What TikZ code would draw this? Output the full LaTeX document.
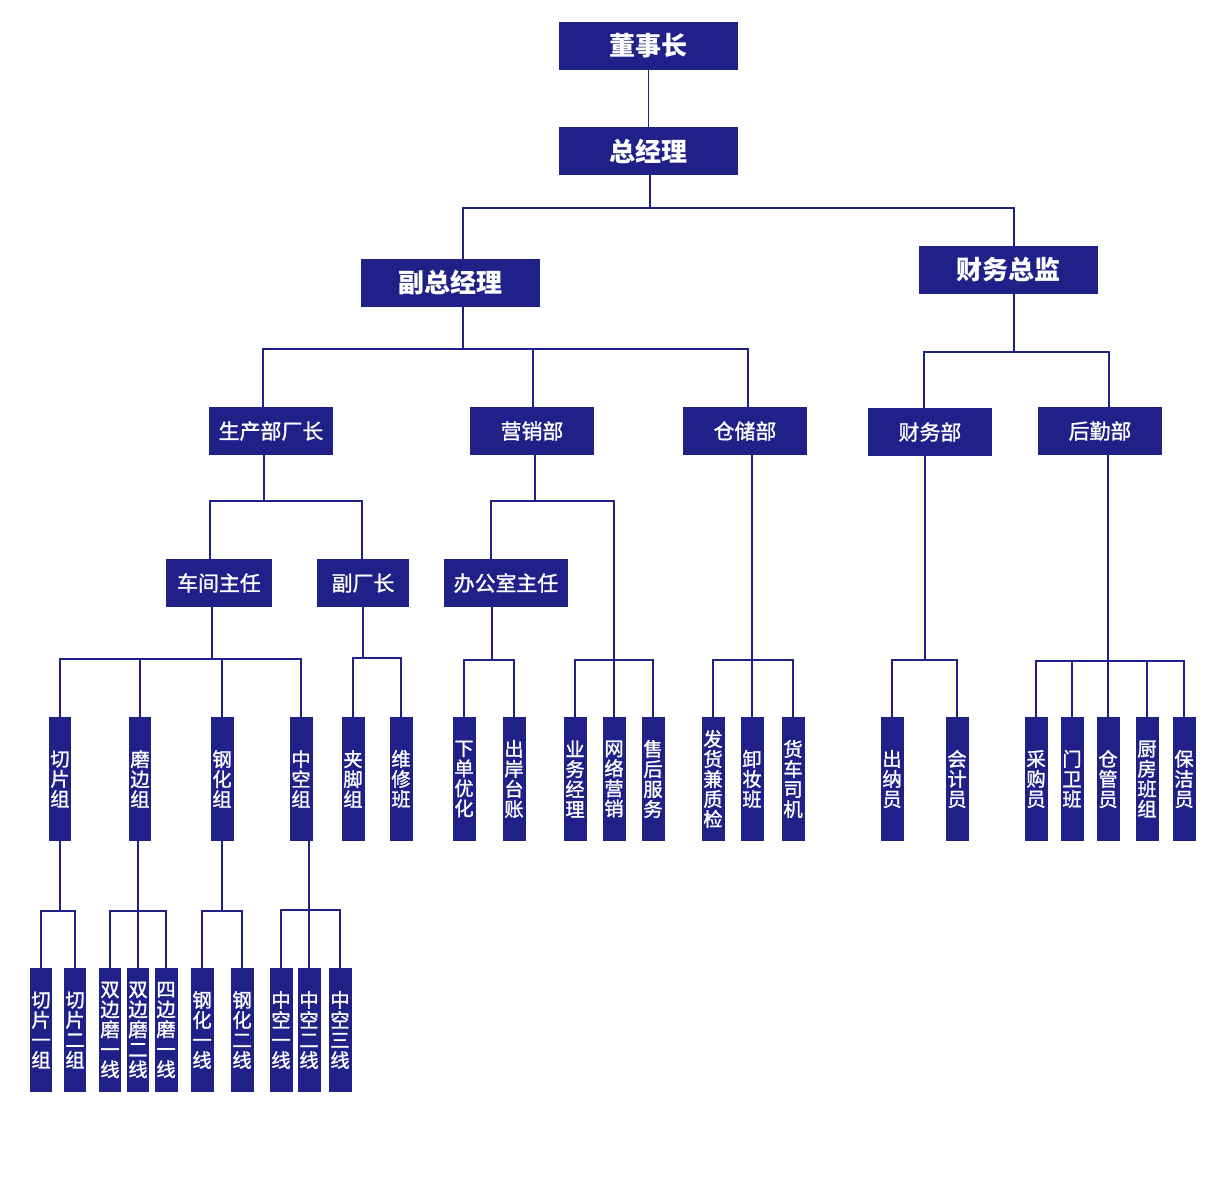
\documentclass[tikz,border=0pt]{standalone}
\usepackage{fontspec}
\setmainfont{Noto Sans CJK SC}
\newfontfamily\medfont{Noto Sans CJK SC}[BoldFont={Noto Sans CJK SC},BoldFeatures={FakeBold=1.3}]
\definecolor{navy}{RGB}{31,32,136}

\begin{document}
\begin{tikzpicture}[x=0.02cm,y=-0.02cm,
    orgbox/.style={fill=navy,text=white,inner sep=0pt},
    topbox/.style={orgbox,minimum width=3.58cm,minimum height=0.96cm,font=\fontsize{14.8}{17}\selectfont\bfseries},
    deptbox/.style={orgbox,minimum width=2.48cm,minimum height=0.96cm,font=\medfont\fontsize{11.9}{14}\selectfont\bfseries},
    vbox/.style={orgbox,minimum width=0.46cm,minimum height=2.48cm,align=center,font=\medfont\fontsize{11}{11.4}\selectfont\bfseries},
    link/.style={draw=navy,line width=1.1pt}]
    \useasboundingbox (0,0) rectangle (1220,1200);

    % top levels
    \node[topbox] (chair) at (648.5,46) {董事长};
    \node[topbox] (gm) at (648.5,151) {总经理};
    \node[topbox] (vp) at (450.5,283) {副总经理};
    \node[topbox] (cfo) at (1008.5,270) {财务总监};

    \node[deptbox] (prod) at (271,431) {生产部厂长};
    \node[deptbox] (sales) at (532,431) {营销部};
    \node[deptbox] (store) at (745,431) {仓储部};
    \node[deptbox] (fin) at (930,432) {财务部};
    \node[deptbox] (logi) at (1100,431) {后勤部};

    \node[deptbox,minimum width=2.12cm] (ws) at (219,583) {车间主任};
    \node[deptbox,minimum width=1.84cm] (vfm) at (363,583) {副厂长};
    \node[deptbox] (office) at (506,583) {办公室主任};

    % groups
    \node[vbox] (qp) at (60,779) {切\\片\\组};
    \node[vbox] (mb) at (140,779) {磨\\边\\组};
    \node[vbox] (gh) at (222,779) {钢\\化\\组};
    \node[vbox] (zk) at (301,779) {中\\空\\组};
    \node[vbox] (jj) at (353,779) {夹\\脚\\组};
    \node[vbox] (wx) at (401,779) {维\\修\\班};
    \node[vbox] (xd) at (464,779) {下\\单\\优\\化};
    \node[vbox] (ca) at (514,779) {出\\岸\\台\\账};
    \node[vbox] (yw) at (575,779) {业\\务\\经\\理};
    \node[vbox] (wl) at (614,779) {网\\络\\营\\销};
    \node[vbox] (sh) at (653,779) {售\\后\\服\\务};
    \node[vbox] (fh) at (713,779) {发\\货\\兼\\质\\检};
    \node[vbox] (xz) at (752,779) {卸\\妆\\班};
    \node[vbox] (hc) at (793,779) {货\\车\\司\\机};
    \node[vbox] (cn) at (892,779) {出\\纳\\员};
    \node[vbox] (kj) at (957,779) {会\\计\\员};
    \node[vbox] (cg) at (1036,779) {采\\购\\员};
    \node[vbox] (mw) at (1072,779) {门\\卫\\班};
    \node[vbox] (cang) at (1108,779) {仓\\管\\员};
    \node[vbox] (cf) at (1147,779) {厨\\房\\班\\组};
    \node[vbox] (bj) at (1184,779) {保\\洁\\员};

    % lines
    \node[vbox] (qp1) at (41,1030) {切\\片\\一\\组};
    \node[vbox] (qp2) at (75,1030) {切\\片\\二\\组};
    \node[vbox] (mb1) at (110,1030) {双\\边\\磨\\一\\线};
    \node[vbox] (mb2) at (138,1030) {双\\边\\磨\\二\\线};
    \node[vbox] (mb3) at (166,1030) {四\\边\\磨\\一\\线};
    \node[vbox] (gh1) at (202,1030) {钢\\化\\一\\线};
    \node[vbox] (gh2) at (242,1030) {钢\\化\\二\\线};
    \node[vbox] (zk1) at (281,1030) {中\\空\\一\\线};
    \node[vbox] (zk2) at (309,1030) {中\\空\\二\\线};
    \node[vbox] (zk3) at (340,1030) {中\\空\\三\\线};

    % connectors, top down
    \draw[link] (chair) -- (gm);
    \draw[link] (gm.south -| 650,0) -- (650,208);
    \draw[link] (vp.north -| 463,0) |- (650,208) -| (cfo.north -| 1014,0);

    \draw[link] (vp.south -| 463,0) -- (463,349);
    \draw[link] (prod.north -| 263,0) |- (463,349) -| (store.north -| 748,0);
    \draw[link] (sales.north -| 533,0) -- (533,349);

    \draw[link] (cfo.south -| 1014,0) -- (1014,352);
    \draw[link] (fin.north -| 924,0) |- (1014,352) -| (logi.north -| 1109,0);

    \draw[link] (prod.south -| 264,0) -- (264,501);
    \draw[link] (ws.north -| 210,0) |- (264,501) -| (vfm.north -| 362,0);

    \draw[link] (sales.south -| 535,0) -- (535,501);
    \draw[link] (office.north -| 491,0) |- (wl.north |- 0,501) -- (wl.north);
    \draw[link] (yw.north) |- (wl.north |- 0,660) -| (sh.north);

    \draw[link] (xz.north |- store.south) -- (xz.north);
    \draw[link] (fh.north) |- (xz.north |- 0,660) -| (hc.north);

    \draw[link] (fin.south -| 925,0) -- (925,660);
    \draw[link] (cn.north) |- (925,660) -| (kj.north);

    \draw[link] (cang.north |- logi.south) -- (cang.north);
    \draw[link] (cg.north) |- (cang.north |- 0,661) -| (bj.north);
    \draw[link] (mw.north) -- (mw.north |- 0,661);
    \draw[link] (cf.north) -- (cf.north |- 0,661);

    \draw[link] (ws.south -| 212,0) -- (212,659);
    \draw[link] (qp.north) |- (212,659) -| (zk.north);
    \draw[link] (mb.north) -- (mb.north |- 0,659);
    \draw[link] (gh.north) -- (gh.north |- 0,659);

    \draw[link] (vfm.south) -- (vfm.south |- 0,658);
    \draw[link] (jj.north) |- (vfm.south |- 0,658) -| (wx.north);

    \draw[link] (office.south -| 492,0) -- (492,660);
    \draw[link] (xd.north) |- (492,660) -| (ca.north);

    % bottom level
    \draw[link] (qp.south) -- (qp.south |- 0,911);
    \draw[link] (qp1.north) |- (qp.south |- 0,911) -| (qp2.north);
    \draw[link] (mb2.north |- mb.south) -- (mb2.north);
    \draw[link] (mb1.north) |- (mb2.north |- 0,911) -| (mb3.north);
    \draw[link] (gh.south) -- (gh.south |- 0,911);
    \draw[link] (gh1.north) |- (gh.south |- 0,911) -| (gh2.north);
    \draw[link] (zk2.north |- zk.south) -- (zk2.north);
    \draw[link] (zk1.north) |- (zk2.north |- 0,910) -| (zk3.north);
\end{tikzpicture}
\end{document}
